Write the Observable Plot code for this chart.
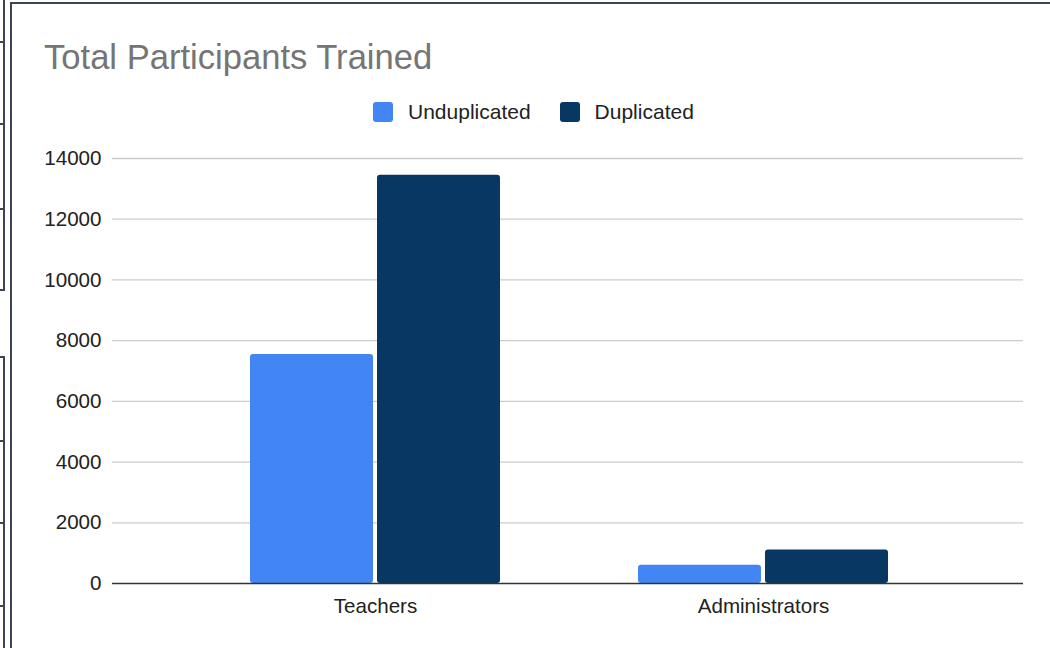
<!DOCTYPE html>
<html>
<head>
<meta charset="utf-8">
<script src="https://cdn.jsdelivr.net/npm/d3@7"></script>
<script src="https://cdn.jsdelivr.net/npm/@observablehq/plot@0.6"></script>
<style>
  html, body { margin: 0; padding: 0; background: #fff; width: 1050px; height: 648px; overflow: hidden; font-family: Arial, "Liberation Sans", sans-serif; }
  #page { position: relative; width: 1050px; height: 648px; }
  .strip { position: absolute; background: #3c4556; }
  #frame { position: absolute; left: 10px; top: 2px; width: 1040px; height: 646px; border-left: 2px solid #3c4556; border-top: 2px solid #3c4556; box-sizing: border-box; }
  #title { position: absolute; left: 44px; top: 38px; font-size: 34.6px; color: #757575; white-space: nowrap; }
  #legend { position: absolute; left: 373px; top: 100px; display: flex; align-items: center; font-size: 21px; color: #222; white-space: nowrap; }
  .sw { width: 20px; height: 20px; border-radius: 3px; display: inline-block; margin-right: 15px; }
  .item { display: flex; align-items: center; margin-right: 29px; }
  #chart { position: absolute; left: 0; top: 135px; }
</style>
</head>
<body>
<div id="page">
  <div id="frame"></div>
  <div id="title">Total Participants Trained</div>
  <div id="legend"></div>
  <div id="chart"></div>
</div>
<script>
const categories = ["Teachers", "Administrators"];
const seriesNames = ["Unduplicated", "Duplicated"];
const unduplicated = [7540, 600];
const duplicated = [13450, 1100];
const yTicks = [0, 2000, 4000, 6000, 8000, 10000, 12000, 14000];
const colors = ["#4285f4", "#083763"];

// decorative strips at left edge (background cells)
const page = document.getElementById("page");
const addStrip = (l, t, w, h) => { const d = document.createElement("div"); d.className = "strip"; Object.assign(d.style, {left: l + "px", top: t + "px", width: w + "px", height: h + "px"}); page.appendChild(d); };
addStrip(3, 0, 2, 291);
addStrip(3, 356, 2, 292);
[41, 123, 208, 289, 356, 440, 522, 605].forEach(y => addStrip(0, y, 5, 2));

// legend
const legend = document.getElementById("legend");
seriesNames.forEach((s, i) => {
  const it = document.createElement("div");
  it.className = "item";
  it.innerHTML = `<span class="sw" style="background:${colors[i]}"></span><span>${s}</span>`;
  legend.appendChild(it);
});

const undupData = categories.map((c, i) => ({category: c, series: "Unduplicated", value: unduplicated[i]}));
const dupData = categories.map((c, i) => ({category: c, series: "Duplicated", value: duplicated[i]}));

const chart = Plot.plot({
  width: 1050,
  height: 513,
  marginLeft: 112,
  marginRight: 27,
  marginTop: 23,
  marginBottom: 65,
  style: {fontFamily: "Arial, 'Liberation Sans', sans-serif", fontSize: "20.6px", color: "#222", background: "transparent"},
  x: {domain: categories, paddingInner: 0.3557, paddingOuter: 0.35, align: 0.505, label: null, tickSize: 0, tickPadding: 15},
  y: {domain: [0, 14000], ticks: yTicks, label: null, tickSize: 0, tickPadding: 11, tickFormat: d => String(d)},
  marks: [
    Plot.ruleY(yTicks.filter(d => d > 0), {stroke: "#cccccc", strokeWidth: 1.3}),
    Plot.barY(undupData, {x: "category", y: "value", fill: colors[0], insetRight: 127, rx: 3}),
    Plot.barY(dupData, {x: "category", y: "value", fill: colors[1], insetLeft: 127, rx: 3}),
    Plot.ruleY([0], {stroke: "#333333", strokeWidth: 1.5})
  ]
});
document.getElementById("chart").appendChild(chart);
</script>
</body>
</html>
